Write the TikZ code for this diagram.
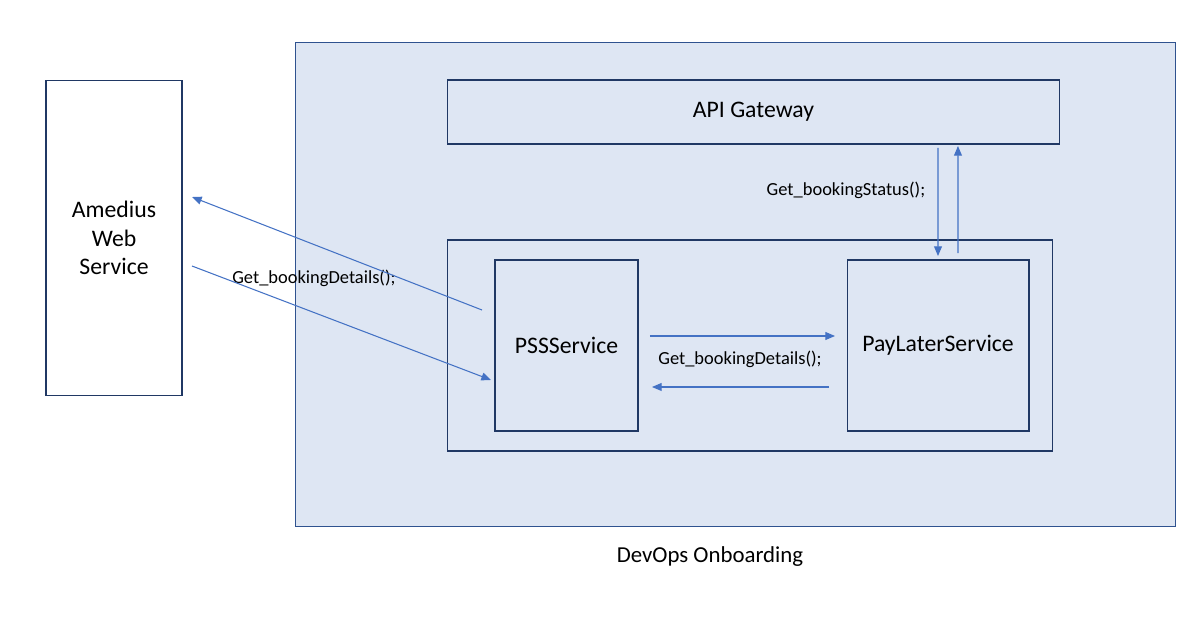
\documentclass[tikz,border=0pt]{standalone}
\usepackage{fontspec}
\setmainfont{Carlito}
\usepackage{tikz}
\usetikzlibrary{arrows.meta, positioning}
\definecolor{navy}{HTML}{203864}
\definecolor{edgeblue}{HTML}{2F528F}
\definecolor{paleblue}{HTML}{DEE6F3}
\definecolor{arrowblue}{HTML}{4472C4}
\tikzstyle{box} = [rectangle, draw=navy, line width=0.6pt, text centered, align=center, inner sep=0pt, outer sep=0pt, font=\fontsize{13.5}{16.4}\selectfont]
\tikzstyle{servicebox} = [box, minimum height=3.42cm]
\tikzstyle{label} = [font=\fontsize{10.5}{12}\selectfont, inner sep=0pt]
\tikzstyle{arrow} = [arrowblue, line width=0.6pt, -{Triangle[length=5.5pt, width=4.5pt]}]

\begin{document}
\begin{tikzpicture}[x=0.02cm, y=-0.02cm]
  \useasboundingbox (0,0) rectangle (1203,625);
  % Externer Dienst
  \node (amedius) [box, fill=white, minimum width=2.72cm, minimum height=6.32cm] at (114,238) {Amedius\\Web\\Service};
  % DevOps Bereich
  \node (devops) [box, draw=edgeblue, fill=paleblue, minimum width=17.62cm, minimum height=9.7cm] at (735.5,284.5) {};
  \node (gateway) [box, minimum width=12.26cm, minimum height=1.28cm] at (753.5,112) {API Gateway};
  \node (inner) [box, minimum width=12.12cm, minimum height=4.22cm] at (750,345.5) {};
  \node (pss) [servicebox, minimum width=2.86cm] at (566.5,345.5) {PSSService};
  \node (paylater) [servicebox, minimum width=3.64cm] at (938,345.5) {PayLaterService};
  \node (title) [font=\fontsize{13}{15}\selectfont] at (710,557) {DevOps Onboarding};
  % Beschriftungen
  \node (detailsleft) [label, anchor=west] at (232,278) {Get\_bookingDetails();};
  \node (detailsmid) [label] at (740,359) {Get\_bookingDetails();};
  \node (status) [label] at (846,190) {Get\_bookingStatus();};
  % Pfeile
  \draw [arrow] ([xshift=-0.26cm, yshift=0.71cm]pss.west) -- ([xshift=0.2cm, yshift=0.82cm]amedius.east);
  \draw [arrow] ([xshift=0.2cm, yshift=-0.56cm]amedius.east) -- ([xshift=-0.08cm, yshift=-0.69cm]pss.west);
  \draw [arrow] ([xshift=0.24cm, yshift=0.19cm]pss.east) -- ([xshift=-0.24cm, yshift=0.19cm]paylater.west);
  \draw [arrow] ([xshift=-0.36cm, yshift=-0.83cm]paylater.west) -- ([xshift=0.28cm, yshift=-0.83cm]pss.east);
  \draw [arrow] ([xshift=3.69cm, yshift=-0.08cm]gateway.south) -- ([yshift=0.08cm]paylater.north);
  \draw [arrow] ([xshift=0.4cm, yshift=0.14cm]paylater.north) -- ([xshift=4.09cm, yshift=-0.04cm]gateway.south);
\end{tikzpicture}
\end{document}
